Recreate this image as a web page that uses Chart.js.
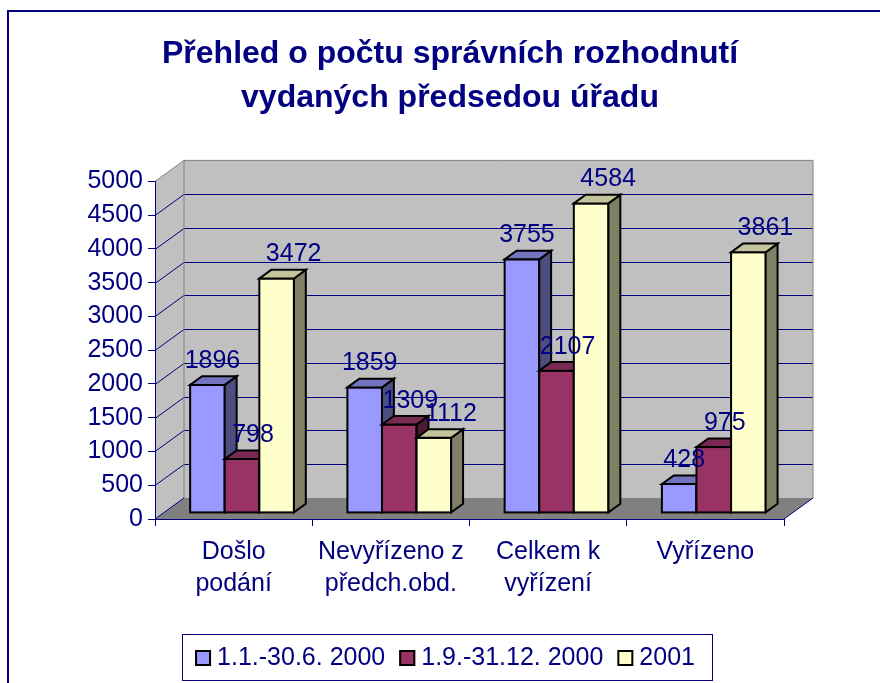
<!DOCTYPE html>
<html><head><meta charset="utf-8">
<script src="https://cdn.jsdelivr.net/npm/chart.js@4.4.0/dist/chart.umd.min.js"></script>
<style>html,body{margin:0;padding:0;background:#fff;overflow:hidden}</style>
</head><body>
<canvas id="c" width="880" height="683"></canvas>
<script>
// ---- data ----
const titleLines = ["Přehled o počtu správních rozhodnutí", "vydaných předsedou úřadu"];
const categories = [["Došlo", "podání"], ["Nevyřízeno z", "předch.obd."], ["Celkem k", "vyřízení"], ["Vyřízeno"]];
const seriesNames = ["1.1.-30.6. 2000", "1.9.-31.12. 2000", "2001"];
const series1 = [1896, 1859, 3755, 428];
const series2 = [798, 1309, 2107, 975];
const series3 = [3472, 1112, 4584, 3861];
const yMin = 0, yMax = 5000, yStep = 500;

// ---- styles ----
const NAVY = '#000080';
const FONT = '"Liberation Sans", Arial, Helvetica, sans-serif';
const WALL = {dx: 29, dy: -21};          // depth of the 3D box
const BAR = {front: 0.29, depth: 0.41};   // bar placement within depth
const faces = [
  {front: '#9999FF', top: '#7373BF', side: '#4D4D80'},
  {front: '#993366', top: '#7A2952', side: '#4D1A33'},
  {front: '#FFFFCC', top: '#C4C49C', side: '#808066'}
];

function poly(ctx, pts) {
  ctx.beginPath();
  ctx.moveTo(pts[0][0], pts[0][1]);
  for (let i = 1; i < pts.length; i++) ctx.lineTo(pts[i][0], pts[i][1]);
  ctx.closePath();
}

const threeD = {
  id: 'threeD',
  beforeDraw(chart) {
    const {ctx, chartArea: a, scales: {y}} = chart;
    ctx.save();
    ctx.fillStyle = '#fff';
    ctx.fillRect(0, 0, chart.width, chart.height);
    ctx.strokeStyle = NAVY; ctx.lineWidth = 2;
    ctx.strokeRect(8, 11, chart.width + 40, chart.height + 40);
    const L = a.left, R = a.right, T = y.getPixelForValue(y.max), B = y.getPixelForValue(y.min);
    const dx = WALL.dx, dy = WALL.dy;
    ctx.fillStyle = '#C0C0C0';
    ctx.fillRect(L + dx, T + dy, R - L, B - T);
    poly(ctx, [[L, T], [L + dx, T + dy], [L + dx, B + dy], [L, B]]); ctx.fill();
    ctx.fillStyle = '#808080';
    poly(ctx, [[L, B], [R, B], [R + dx, B + dy], [L + dx, B + dy]]); ctx.fill();
    ctx.strokeStyle = NAVY; ctx.lineWidth = 1;
    y.ticks.forEach(t => {
      if (t.value <= y.min || t.value >= y.max) return;
      const py = Math.round(y.getPixelForValue(t.value)) + 0.5;
      ctx.beginPath(); ctx.moveTo(L, py); ctx.lineTo(L + dx, py + dy); ctx.lineTo(R + dx, py + dy); ctx.stroke();
    });
    ctx.beginPath();
    ctx.moveTo(L, B); ctx.lineTo(L + dx, B + dy);
    ctx.moveTo(R, B); ctx.lineTo(R + dx, B + dy);
    ctx.stroke();
    ctx.strokeStyle = '#808080';
    ctx.beginPath();
    ctx.moveTo(L, T); ctx.lineTo(L + dx, T + dy); ctx.lineTo(R + dx, T + dy); ctx.lineTo(R + dx, B + dy);
    ctx.moveTo(L + dx, T + dy); ctx.lineTo(L + dx, B + dy);
    ctx.stroke();
    ctx.restore();
  },
  beforeDatasetsDraw(chart) {
    chart.ctx.save();
    chart.ctx.translate(WALL.dx * BAR.front, WALL.dy * BAR.front);
  },
  afterDatasetsDraw(chart) {
    const ctx = chart.ctx;
    const ddx = WALL.dx * BAR.depth, ddy = WALL.dy * BAR.depth;
    const metas = chart.data.datasets.map((d, i) => chart.getDatasetMeta(i));
    const n = chart.data.labels.length;
    for (let j = 0; j < n; j++) {
      metas.forEach((m, i) => {
        const bar = m.data[j];
        const p = bar.getProps(['x', 'y', 'base', 'width'], true);
        const x0 = p.x - p.width / 2, x1 = p.x + p.width / 2;
        const top = Math.min(p.y, p.base), bot = Math.max(p.y, p.base);
        bar.draw(ctx);
        ctx.save();
        ctx.strokeStyle = '#000'; ctx.lineWidth = 2; ctx.lineJoin = 'miter';
        ctx.strokeRect(x0, top, x1 - x0, bot - top);
        ctx.fillStyle = faces[i].side;
        poly(ctx, [[x1, top], [x1 + ddx, top + ddy], [x1 + ddx, bot + ddy], [x1, bot]]); ctx.fill(); ctx.stroke();
        ctx.fillStyle = faces[i].top;
        poly(ctx, [[x0, top], [x0 + ddx, top + ddy], [x1 + ddx, top + ddy], [x1, top]]); ctx.fill(); ctx.stroke();
        ctx.restore();
      });
    }
    ctx.restore();
  },
  afterDraw(chart) {
    const ctx = chart.ctx;
    const fx = WALL.dx * BAR.front, fy = WALL.dy * BAR.front;
    ctx.save();
    ctx.font = '25px ' + FONT;
    ctx.fillStyle = NAVY;
    ctx.textAlign = 'center';
    ctx.textBaseline = 'alphabetic';
    chart.data.datasets.forEach((ds, i) => {
      const m = chart.getDatasetMeta(i);
      m.data.forEach((bar, j) => {
        const p = bar.getProps(['x', 'y'], true);
        ctx.fillText(String(ds.data[j]), p.x + fx + 5 + 6 * i, p.y + fy - 17);
      });
    });
    // legend
    const box = 16, gapText = 6, gapItem = 14;
    const widths = seriesNames.map(s => ctx.measureText(s).width);
    const total = widths.reduce((s, w) => s + box + gapText + w, 0) + gapItem * (widths.length - 1);
    let x = 445 - total / 2;
    const cy = 658;
    ctx.textAlign = 'left';
    ctx.textBaseline = 'middle';
    seriesNames.forEach((s, i) => {
      ctx.fillStyle = faces[i].front;
      ctx.fillRect(x, cy - box / 2, box, box);
      ctx.strokeStyle = '#000'; ctx.lineWidth = 2;
      ctx.strokeRect(x + 1, cy - box / 2 + 1, box - 2, box - 2);
      ctx.fillStyle = NAVY;
      ctx.fillText(s, x + box + gapText, cy);
      x += box + gapText + widths[i] + gapItem;
    });
    ctx.strokeStyle = NAVY; ctx.lineWidth = 1;
    ctx.strokeRect(182.5, 634.5, 530, 46);
    ctx.restore();
  }
};

const seriesData = [series1, series2, series3];
new Chart(document.getElementById('c'), {
  type: 'bar',
  data: {
    labels: categories,
    datasets: seriesData.map((d, i) => ({
      label: seriesNames[i],
      data: d,
      yAxisID: 'y',
      backgroundColor: faces[i].front,
      borderWidth: 0,
      clip: false,
      barPercentage: 1,
      categoryPercentage: 0.66
    }))
  },
  options: {
    responsive: false,
    animation: false,
    layout: {padding: {left: 20, right: 0, top: 0, bottom: 0}},
    plugins: {
      legend: {display: false},
      tooltip: {enabled: false},
      title: {
        display: true,
        text: titleLines,
        color: NAVY,
        font: {family: FONT, size: 32, weight: 'bold', lineHeight: 1.35},
        padding: {top: 33, bottom: 62}
      }
    },
    scales: {
      x: {
        grid: {drawOnChartArea: false, color: NAVY, tickLength: 7, offset: true},
        border: {color: NAVY, width: 1},
        ticks: {color: NAVY, font: {family: FONT, size: 25, lineHeight: 1.28}, padding: 10, maxRotation: 0, autoSkip: false},
        afterFit(s) { s.height = 164; }
      },
      y: {
        position: 'left',
        min: yMin, max: yMax,
        grid: {drawOnChartArea: false, color: NAVY, tickLength: 7},
        border: {color: NAVY, width: 1},
        ticks: {stepSize: yStep, color: NAVY, font: {family: FONT, size: 25}, padding: 5, callback: v => String(v)},
        afterFit(s) { s.width = 135; }
      },
      yRight: {
        position: 'right',
        min: yMin, max: yMax,
        grid: {display: false},
        border: {display: false},
        ticks: {display: false},
        afterFit(s) { s.width = 96; }
      }
    }
  },
  plugins: [threeD]
});
</script>
</body></html>
